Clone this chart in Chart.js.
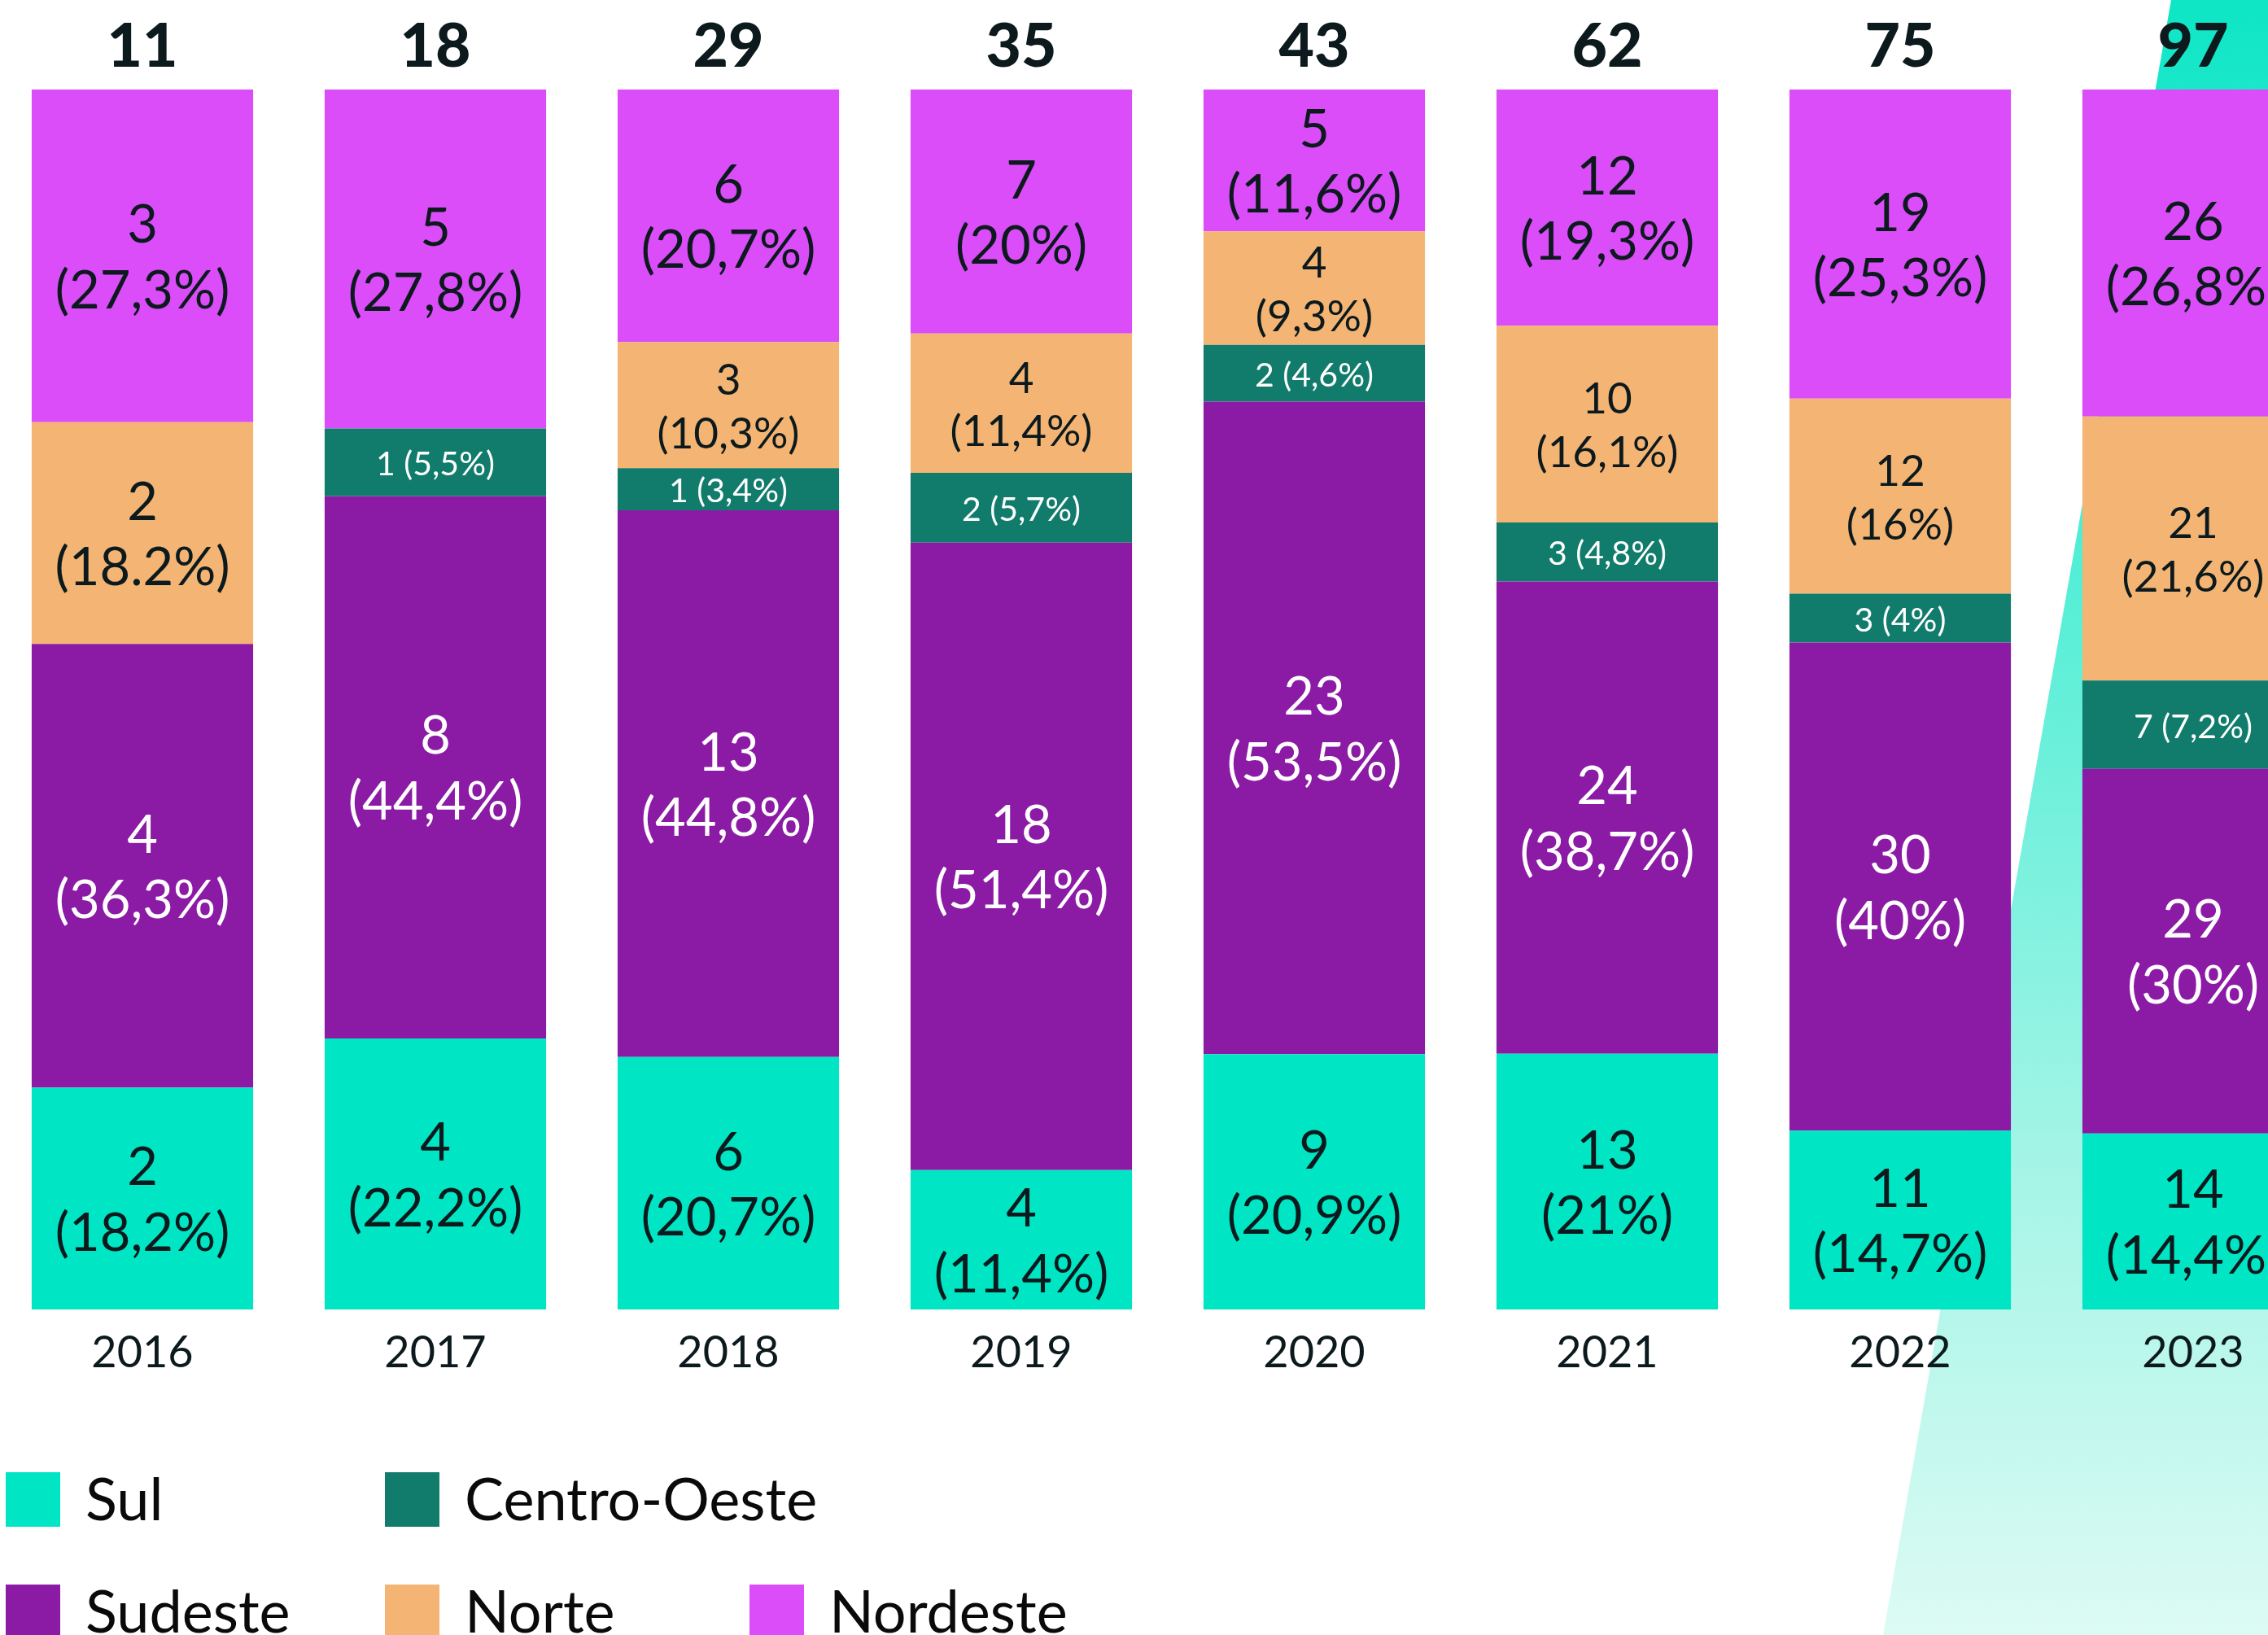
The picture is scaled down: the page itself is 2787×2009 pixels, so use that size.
<!DOCTYPE html>
<html lang="pt-BR">
<head>
<meta charset="utf-8">
<title>Distribuição por região</title>
<script src="https://cdn.jsdelivr.net/npm/chart.js@4.4.1/dist/chart.umd.min.js"></script>
<style>
    html, body {
        margin: 0;
        padding: 0;
        width: 2787px;
        height: 2009px;
        overflow: hidden;
        background: #ffffff;
        font-family: Lato, "Noto Sans", sans-serif;
    }

    #shape {
        position: absolute;
        left: 0;
        top: 0;
        width: 2787px;
        height: 2009px;
        clip-path: polygon(2668px 0, 2787px 0, 2787px 2009px, 2314px 2009px);
        background: linear-gradient(to bottom, #0ee6c6 0%, #5eefd8 40%, #a2f4e6 70%, #dcfbf4 100%);
    }

    #wrap {
        position: absolute;
        left: -5px;
        top: 0;
        width: 2880px;
        height: 1720px;
    }

    .legend-item {
        position: absolute;
        display: flex;
        align-items: center;
        height: 67px;
    }

    .legend-box {
        width: 67px;
        height: 67px;
        margin-right: 31px;
        flex: none;
    }

    .legend-text {
        font-size: 72px;
        font-weight: 400;
        line-height: 67px;
        color: #0a0a0a;
        white-space: nowrap;
        position: relative;
        top: -2px;
    }
</style>
</head>
<body>

<div id="shape"></div>

<div id="wrap">
    <canvas id="regionsChart" width="2880" height="1720"></canvas>
</div>

<div id="legend"></div>

<script>
// ==========================
// DADOS
// ==========================

const years = ["2016", "2017", "2018", "2019", "2020", "2021", "2022", "2023"];

const totals = [11, 18, 29, 35, 43, 62, 75, 97];

const sul = [2, 4, 6, 4, 9, 13, 11, 14];
const sulPct = ["18,2%", "22,2%", "20,7%", "11,4%", "20,9%", "21%", "14,7%", "14,4%"];

const sudeste = [4, 8, 13, 18, 23, 24, 30, 29];
const sudestePct = ["36,3%", "44,4%", "44,8%", "51,4%", "53,5%", "38,7%", "40%", "30%"];

const centroOeste = [0, 1, 1, 2, 2, 3, 3, 7];
const centroOestePct = ["", "5,5%", "3,4%", "5,7%", "4,6%", "4,8%", "4%", "7,2%"];

const norte = [2, 0, 3, 4, 4, 10, 12, 21];
const nortePct = ["18.2%", "", "10,3%", "11,4%", "9,3%", "16,1%", "16%", "21,6%"];

const nordeste = [3, 5, 6, 7, 5, 12, 19, 26];
const nordestePct = ["27,3%", "27,8%", "20,7%", "20%", "11,6%", "19,3%", "25,3%", "26,8%"];


// ==========================
// ESTILO
// ==========================

const FONT = "Lato, 'Noto Sans', sans-serif";
const DARK = "#0c1a1d";

// cada barra ocupa 100% (participação de cada região no total do ano)
function toShare(counts) {

    return counts.map((n, i) => n / totals[i] * 100);

}

function makeDataset(label, counts, pcts, color, textColor, sizes, inline) {

    return {
        label: label,
        data: toShare(counts),
        counts: counts,
        pcts: pcts,
        backgroundColor: color,
        textColor: textColor,
        labelSizes: sizes,
        inline: inline,
        borderWidth: 0,
        categoryPercentage: 1,
        barPercentage: 0.756
    };

}

const big = years.map(() => 65);
const medium = years.map((y, i) => i === 0 ? 65 : 53);

const datasets = [
    makeDataset("Sul", sul, sulPct, "#00e5c3", DARK, big, false),
    makeDataset("Sudeste", sudeste, sudestePct, "#8b1ba5", "#ffffff", big, false),
    makeDataset("Centro-Oeste", centroOeste, centroOestePct, "#117c6c", "#ffffff", null, true),
    makeDataset("Norte", norte, nortePct, "#f3b474", DARK, medium, false),
    makeDataset("Nordeste", nordeste, nordestePct, "#da4df8", DARK, big, false)
];


// ==========================
// PLUGINS
// ==========================

const segmentLabels = {

    id: "segmentLabels",

    afterDatasetsDraw(chart) {

        const ctx = chart.ctx;

        chart.data.datasets.forEach((ds, di) => {

            const meta = chart.getDatasetMeta(di);

            meta.data.forEach((bar, i) => {

                const n = ds.counts[i];

                if (!n) return;

                const cy = (bar.y + bar.base) / 2 + 3;

                ctx.save();
                ctx.fillStyle = ds.textColor;
                ctx.textAlign = "center";
                ctx.textBaseline = "middle";

                if (ds.inline) {

                    ctx.font = "400 41px " + FONT;
                    ctx.fillText(n + " (" + ds.pcts[i] + ")", bar.x, cy);

                } else {

                    const size = ds.labelSizes[i];
                    const gap = size * 0.62;

                    ctx.font = "400 " + size + "px " + FONT;
                    ctx.fillText(String(n), bar.x, cy - gap);
                    ctx.fillText("(" + ds.pcts[i] + ")", bar.x, cy + gap);

                }

                ctx.restore();

            });

        });

    }

};

const totalLabels = {

    id: "totalLabels",

    afterDatasetsDraw(chart) {

        const ctx = chart.ctx;
        const x = chart.scales.x;

        ctx.save();
        ctx.fillStyle = DARK;
        ctx.textAlign = "center";
        ctx.textBaseline = "middle";
        ctx.font = "900 75px " + FONT;

        totals.forEach((t, i) => {

            ctx.fillText(String(t), x.getPixelForValue(i), 58);

        });

        ctx.restore();

    }

};


// ==========================
// GRÁFICO
// ==========================

const ctx = document.querySelector("#regionsChart").getContext("2d");

new Chart(ctx, {

    type: "bar",

    data: {
        labels: years,
        datasets: datasets
    },

    options: {

        responsive: false,
        animation: false,

        layout: {
            padding: { top: 110, left: 0, right: 0, bottom: 0 }
        },

        plugins: {
            legend: { display: false },
            tooltip: { enabled: false }
        },

        scales: {

            x: {
                stacked: true,
                grid: { display: false, drawTicks: false },
                border: { display: false },
                ticks: {
                    color: DARK,
                    padding: 21,
                    font: { family: FONT, size: 54, weight: "400" }
                },
                afterFit(scale) {
                    scale.height = 111;
                }
            },

            y: {
                stacked: true,
                display: false,
                min: 0,
                max: 100
            }

        }

    },

    plugins: [segmentLabels, totalLabels]

});


// ==========================
// LEGENDA
// ==========================

const legendSpots = {
    "Sul": [7, 1809],
    "Centro-Oeste": [473, 1809],
    "Sudeste": [7, 1947],
    "Norte": [473, 1947],
    "Nordeste": [921, 1947]
};

const legend = document.querySelector("#legend");

datasets.forEach(ds => {

    const spot = legendSpots[ds.label];

    const item = document.createElement("div");
    item.className = "legend-item";
    item.style.left = spot[0] + "px";
    item.style.top = spot[1] + "px";

    const box = document.createElement("div");
    box.className = "legend-box";
    box.style.background = ds.backgroundColor;

    const text = document.createElement("span");
    text.className = "legend-text";
    text.textContent = ds.label;

    item.appendChild(box);
    item.appendChild(text);
    legend.appendChild(item);

});
</script>

</body>
</html>
